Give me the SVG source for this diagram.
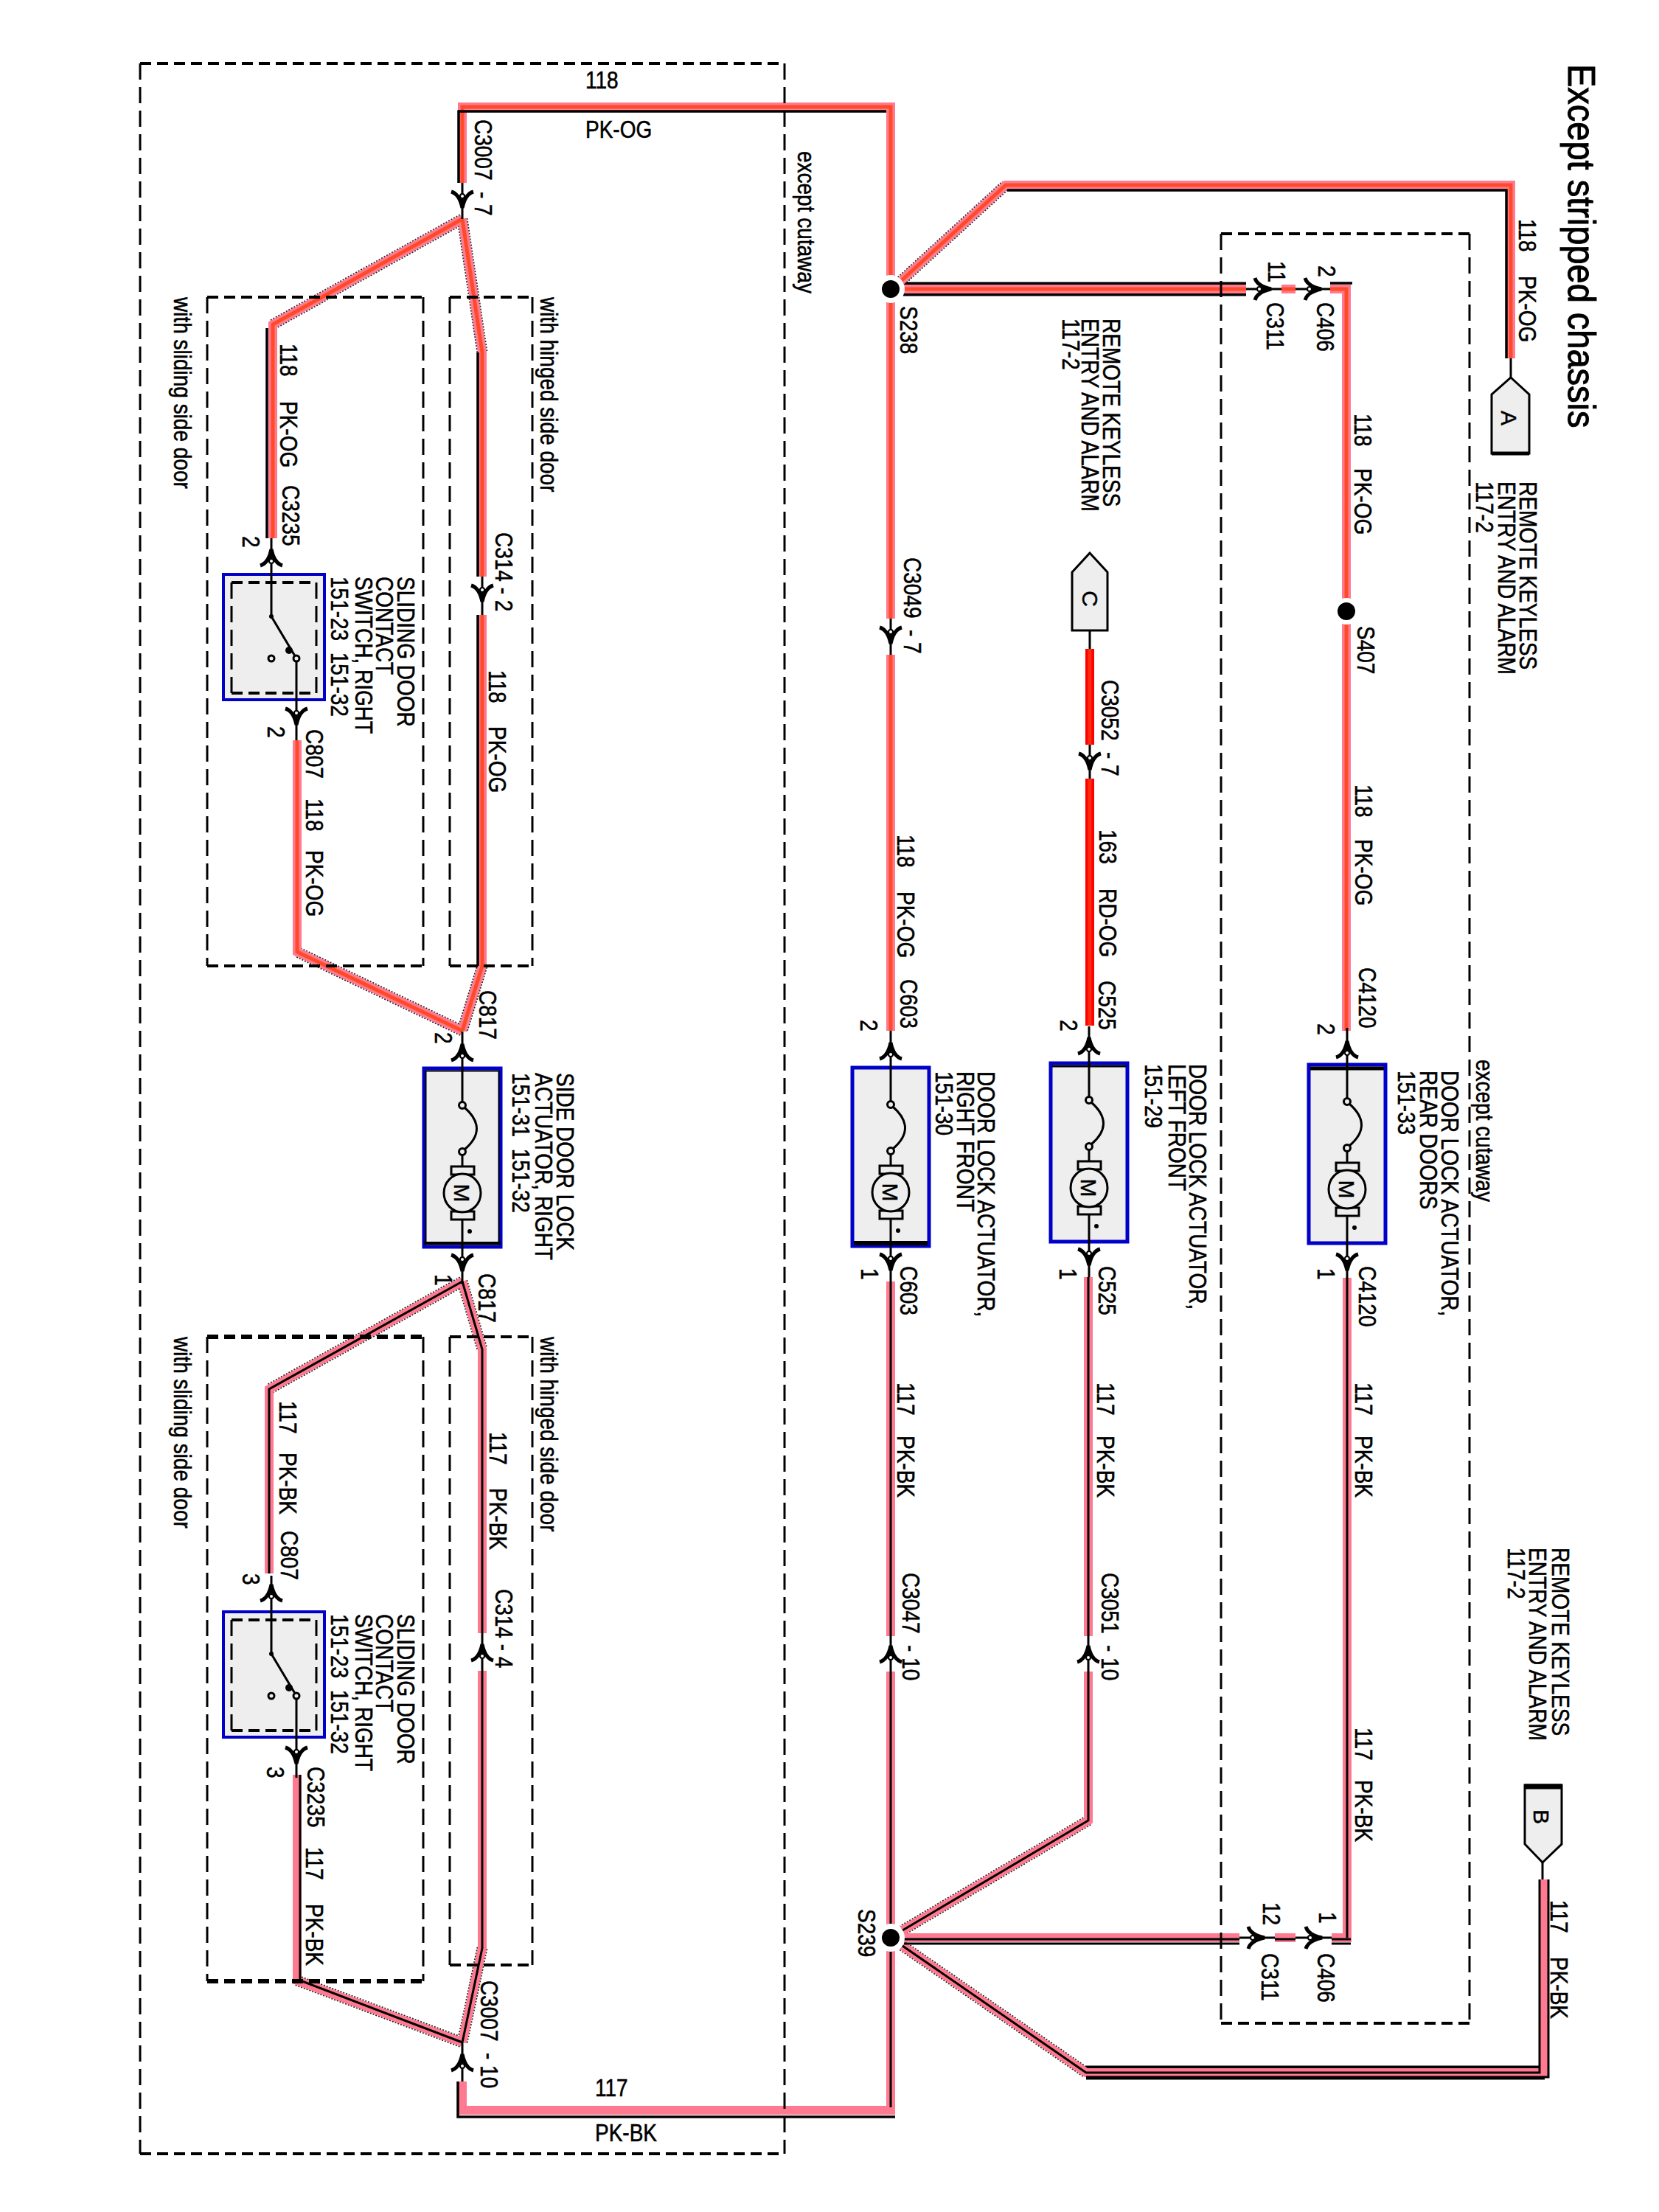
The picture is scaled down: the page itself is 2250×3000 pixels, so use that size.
<svg xmlns="http://www.w3.org/2000/svg" width="2250" height="3000" viewBox="0 0 2250 3000">
<style>
text{font-family:"Liberation Sans",Arial,sans-serif;font-size:28px;fill:#000;stroke:#000;stroke-width:.5;white-space:pre}
.title{font-size:47px;stroke-width:.9}
.m{text-anchor:middle;font-size:30px}
.pk,.og,.rd,.rg,.k,.kc,.kb,.edge,.thin{fill:none}
.pk{stroke:#ff7a90;stroke-width:12}
.og{stroke:#ff4a28;stroke-width:5}
.rd{stroke:#ff0000;stroke-width:12}
.rg{stroke:#ff2a10;stroke-width:5}
.k{stroke:#000;stroke-width:3.500}
.kc{stroke:#000;stroke-width:3}
.kb{stroke:#000;stroke-width:19}
.edge{stroke:#222;stroke-width:15;stroke-dasharray:2 2}
.thin{stroke:#000;stroke-width:3}
.dh{fill:none;stroke:#000;stroke-width:4;stroke-dasharray:15 8}
.dhb{fill:none;stroke:#000;stroke-width:6;stroke-dasharray:15 8}
.dv{fill:none;stroke:#000;stroke-width:3;stroke-dasharray:22 10}
.tag{fill:#eee;stroke:#000;stroke-width:3}
.fine{fill:none;stroke:#000;stroke-width:3}
.ring{fill:#fff}
</style>
<defs>
<g id="plug">
<path d="M-15 -11Q-4 -8 0 11Q4 -8 15 -11" fill="none" stroke="#000" stroke-width="5"/>
<circle cx="0" cy="-5" r="3" fill="#fff" stroke="#000" stroke-width="2"/>
</g>
<g id="act">
<rect x="-52" y="0" width="104" height="242" fill="#eee" stroke="#0000c8" stroke-width="5"/>
<path class="fine" d="M0 -50V46M0 118V133M0 205V290"/>
<circle cx="0" cy="50" r="4.500" fill="#eee" stroke="#000" stroke-width="3"/>
<circle cx="0" cy="113" r="4.500" fill="#eee" stroke="#000" stroke-width="3"/>
<path class="fine" d="M3 53Q36 82 3 110"/>
<rect x="-15" y="133" width="31" height="11" fill="#eee" stroke="#000" stroke-width="3"/>
<rect x="-15" y="194" width="31" height="11" fill="#eee" stroke="#000" stroke-width="3"/>
<ellipse cx="0" cy="169" rx="25" ry="26" fill="#eee" stroke="#000" stroke-width="3"/>
<circle cx="10" cy="221" r="3" fill="#000"/>
</g>
<g id="sw">
<rect x="-65" y="0" width="137" height="170" fill="#eee" stroke="#0000c8" stroke-width="4"/>
<path class="dh" d="M-54 11H61M-54 161H61"/>
<path class="dv" d="M-54 11V161M61 11V161"/>
<path class="fine" d="M0 -49V57L34 114V225"/>
<circle cx="0" cy="57" r="3" fill="#000"/>
<circle cx="24" cy="103" r="5" fill="#000"/>
<circle cx="0" cy="114" r="4" fill="#eee" stroke="#000" stroke-width="3"/>
<circle cx="34" cy="114" r="4" fill="#eee" stroke="#000" stroke-width="3"/>
</g>
<path id="og1" d="M627 248V145H1208V380M1208 404V839M1208 888V1398"/>
<path id="og2" d="M1222 381L1364 251H2049V486"/>
<path id="og3" d="M1225 392H1690M1738 392H1757M1804 392H1826V816M1826 842V1398"/>
<path id="og4" d="M627 297L370 440V730"/>
<path id="og5" d="M627 297L654 478V782M654 834V1310L627 1398"/>
<path id="og6" d="M627 1398L403 1291V1004"/>
<path id="rd1" d="M1478 880V1010M1478 1056V1391"/>
<path id="bk1" d="M1208 1738V2219M1208 2267V2616M1208 2640V2862H627V2823"/>
<path id="bk2" d="M1476 1732V2219M1476 2267V2469L1224 2618"/>
<path id="bk3" d="M1827 1733V2628H1806M1757 2628H1729M1681 2628H1226"/>
<path id="bk4" d="M1224 2639L1473 2811H2094V2549"/>
<path id="bk5" d="M627 1738L365 1884V2134"/>
<path id="bk6" d="M627 1738L654 1830V2215M654 2266V2642L627 2770"/>
<path id="bk7" d="M403 2407V2686L627 2770"/>
</defs>

<g id="connectors">
<path class="edge" d="M1222 381L1364 251M627 297L370 440M627 297L654 478M627 1398L403 1291M654 1310L627 1398M1476 2469L1224 2618M1224 2639L1473 2811M627 1738L365 1884M627 1738L654 1830M654 2642L627 2770M403 2686L627 2770"/>
<path class="kb" d="M1225 392H1690"/>
<path class="kb" d="M1473 2811H2095"/>
<use href="#og1" class="pk"/><use href="#og2" class="pk"/><use href="#og3" class="pk"/><use href="#og4" class="pk"/><use href="#og5" class="pk"/><use href="#og6" class="pk"/>
<use href="#og1" class="og"/><use href="#og2" class="og"/><use href="#og3" class="og"/><use href="#og4" class="og"/><use href="#og5" class="og"/><use href="#og6" class="og"/>
<use href="#rd1" class="rd"/><use href="#rd1" class="rg"/>
<path class="k" d="M622 248V151H1202M1366 258H2043V486M1804 384H1834M362 445V730M648 478V782M648 834V1310"/>
<use href="#bk1" class="pk"/><use href="#bk2" class="pk"/><use href="#bk3" class="pk"/><use href="#bk4" class="pk"/><use href="#bk5" class="pk"/><use href="#bk6" class="pk"/><use href="#bk7" class="pk"/>
<path class="kc" d="M1208 1738V2219M1208 2267V2616M1208 2640V2858M1476 1732V2219M1476 2267V2469L1224 2618M1827 1733V2628M1226 2630H1681M1729 2630H1757M1806 2630H1832M1226 2636H1681M1806 2636H1832M1224 2639L1473 2811H2088V2549M1473 2817H2100V2549M407 2407V2686L627 2770M627 1738L365 1884V2134M627 1738L654 1830V2215M654 2266V2642L627 2770"/>
<path class="k" d="M621 2823V2871H1214"/>
<path class="thin" d="M2049 486V512M2092 2526V2549M1478 855V880M1478 1010V1056M1208 839V888M1690 392H1738M1757 392H1804M627 248V297M654 782V834M1681 2628H1729M1757 2628H1806M1476 2219V2267M1208 2219V2267M654 2215V2266M627 2770V2823"/>
</g>

<g id="frames">
<path class="dh" d="M190 86H1064M190 2921H1064"/><path class="dv" d="M190 86V2921M1064 86V2921"/>
<path class="dh" d="M1656 317H1993M1656 2744H1993"/><path class="dv" d="M1656 317V2744M1993 317V2744"/>
<path class="dh" d="M281 403H574M281 1310H574"/><path class="dv" d="M281 403V1310M574 403V1310"/>
<path class="dh" d="M610 403H722M610 1310H722"/><path class="dv" d="M610 403V1310M722 403V1310"/>
<path class="dhb" d="M281 1813H574M281 2687H574"/><path class="dv" d="M281 1813V2687M574 1813V2687"/>
<path class="dh" d="M610 1813H722M610 2665H722"/><path class="dv" d="M610 1813V2665M722 1813V2665"/>
<text transform="translate(1082 205) rotate(90) scale(1 1.18)">except cutaway</text>
<text transform="translate(2002 1437) rotate(90) scale(1 1.18)">except cutaway</text>
<text transform="translate(236 403) rotate(90) scale(1 1.18)">with sliding side door</text>
<text transform="translate(733 403) rotate(90) scale(1 1.18)">with hinged side door</text>
<text transform="translate(236 1813) rotate(90) scale(1 1.18)">with sliding side door</text>
<text transform="translate(733 1813) rotate(90) scale(1 1.18)">with hinged side door</text>
</g>

<text class="title" transform="translate(2127 87) rotate(90) scale(1 1.12)">Except stripped chassis</text>

<g id="tag-a">
<path class="tag" d="M2049 512L2074 535V615H2023V535Z"/><path d="M2023 615H2074" stroke="#000" stroke-width="5"/>
<text class="m" transform="translate(2036 567) rotate(90)">A</text>
<text transform="translate(2061 653) rotate(90) scale(1 1.18)">REMOTE KEYLESS</text>
<text transform="translate(2032 653) rotate(90) scale(1 1.18)">ENTRY AND ALARM</text>
<text transform="translate(2002 653) rotate(90) scale(1 1.18)">117-2</text>
</g>
<g id="tag-b">
<path class="tag" d="M2068 2421H2118V2501L2092 2526L2068 2501Z"/><path d="M2068 2423H2118" stroke="#000" stroke-width="7"/>
<text class="m" transform="translate(2080 2464) rotate(90)">B</text>
<text transform="translate(2105 2099) rotate(90) scale(1 1.18)">REMOTE KEYLESS</text>
<text transform="translate(2074 2099) rotate(90) scale(1 1.18)">ENTRY AND ALARM</text>
<text transform="translate(2045 2099) rotate(90) scale(1 1.18)">117-2</text>
</g>
<g id="tag-c">
<path class="tag" d="M1478 750L1502 776V855H1454V776Z"/>
<text class="m" transform="translate(1468 812) rotate(90)">C</text>
<text transform="translate(1496 432) rotate(90) scale(1 1.18)">REMOTE KEYLESS</text>
<text transform="translate(1467 432) rotate(90) scale(1 1.18)">ENTRY AND ALARM</text>
<text transform="translate(1441 432) rotate(90) scale(1 1.18)">117-2</text>
</g>

<g id="s238"><circle class="ring" cx="1208" cy="392" r="19"/><circle cx="1208" cy="392" r="12"/><text transform="translate(1221 415) rotate(90) scale(1 1.18)">S238</text></g>
<g id="s407"><circle class="ring" cx="1826" cy="829" r="18"/><circle cx="1826" cy="829" r="12"/><text transform="translate(1841 849) rotate(90) scale(1 1.18)">S407</text></g>
<g id="s239"><circle class="ring" cx="1208" cy="2628" r="19"/><circle cx="1208" cy="2628" r="12"/><text transform="translate(1164 2589) rotate(90) scale(1 1.18)">S239</text></g>

<g id="act-side">
<use href="#act" transform="translate(627 1449)"/>
<rect x="577.500" y="1452.500" width="99" height="235" fill="none" stroke="#000" stroke-width="2"/>
<path d="M575 1686H679" stroke="#000" stroke-width="4"/>
<text class="m" transform="translate(616 1618) rotate(90)">M</text>
<text transform="translate(755 1455) rotate(90) scale(1 1.18)">SIDE DOOR LOCK</text>
<text transform="translate(726 1455) rotate(90) scale(1 1.18)">ACTUATOR, RIGHT</text>
<text transform="translate(695 1455) rotate(90) scale(1 1.18)">151-31  151-32</text>
</g>
<g id="act-rf">
<use href="#act" transform="translate(1208 1448)"/>
<path d="M1158 1686H1258" stroke="#000" stroke-width="6"/>
<text class="m" transform="translate(1197 1617) rotate(90)">M</text>
<text transform="translate(1326 1453) rotate(90) scale(1 1.18)">DOOR LOCK ACTUATOR,</text>
<text transform="translate(1298 1453) rotate(90) scale(1 1.18)">RIGHT FRONT</text>
<text transform="translate(1269 1453) rotate(90) scale(1 1.18)">151-30</text>
</g>
<g id="act-lf">
<use href="#act" transform="translate(1477 1442)"/>
<path d="M1427 1446H1527" stroke="#000" stroke-width="3"/>
<text class="m" transform="translate(1466 1611) rotate(90)">M</text>
<text transform="translate(1613 1443) rotate(90) scale(1 1.18)">DOOR LOCK ACTUATOR,</text>
<text transform="translate(1585 1443) rotate(90) scale(1 1.18)">LEFT FRONT</text>
<text transform="translate(1553 1443) rotate(90) scale(1 1.18)">151-29</text>
</g>
<g id="act-rear">
<use href="#act" transform="translate(1827 1444)"/>
<path d="M1777 1449H1877" stroke="#000" stroke-width="5"/>
<text class="m" transform="translate(1816 1613) rotate(90)">M</text>
<text transform="translate(1955 1452) rotate(90) scale(1 1.18)">DOOR LOCK ACTUATOR,</text>
<text transform="translate(1926 1452) rotate(90) scale(1 1.18)">REAR DOORS</text>
<text transform="translate(1896 1452) rotate(90) scale(1 1.18)">151-33</text>
</g>
<g id="switch-upper">
<use href="#sw" transform="translate(368 779)"/>
<text transform="translate(539 782) rotate(90) scale(1 1.18)">SLIDING DOOR</text>
<text transform="translate(510 782) rotate(90) scale(1 1.18)">CONTACT</text>
<text transform="translate(482 782) rotate(90) scale(1 1.18)">SWITCH, RIGHT</text>
<text transform="translate(449 782) rotate(90) scale(1 1.18)">151-23  151-32</text>
</g>
<g id="switch-lower">
<use href="#sw" transform="translate(368 2186)"/>
<text transform="translate(539 2189) rotate(90) scale(1 1.18)">SLIDING DOOR</text>
<text transform="translate(510 2189) rotate(90) scale(1 1.18)">CONTACT</text>
<text transform="translate(482 2189) rotate(90) scale(1 1.18)">SWITCH, RIGHT</text>
<text transform="translate(449 2189) rotate(90) scale(1 1.18)">151-23  151-32</text>
</g>

<g id="plugs">
<use href="#plug" transform="translate(627 271)"/>
<use href="#plug" transform="translate(654 805)"/>
<use href="#plug" transform="translate(368 756) rotate(180)"/>
<use href="#plug" transform="translate(402 972)"/>
<use href="#plug" transform="translate(627 1427) rotate(180)"/>
<use href="#plug" transform="translate(627 1713)"/>
<use href="#plug" transform="translate(368 2160) rotate(180)"/>
<use href="#plug" transform="translate(402 2381)"/>
<use href="#plug" transform="translate(654 2241) rotate(180)"/>
<use href="#plug" transform="translate(627 2797) rotate(180)"/>
<use href="#plug" transform="translate(1208 862)"/>
<use href="#plug" transform="translate(1208 1425) rotate(180)"/>
<use href="#plug" transform="translate(1208 1712)"/>
<use href="#plug" transform="translate(1208 2243) rotate(180)"/>
<use href="#plug" transform="translate(1478 1033)"/>
<use href="#plug" transform="translate(1477 1418) rotate(180)"/>
<use href="#plug" transform="translate(1477 1705)"/>
<use href="#plug" transform="translate(1476 2243) rotate(180)"/>
<use href="#plug" transform="translate(1827 1423) rotate(180)"/>
<use href="#plug" transform="translate(1827 1712)"/>
<use href="#plug" transform="translate(1713 392) rotate(-90)"/>
<use href="#plug" transform="translate(1781 392) rotate(-90)"/>
<use href="#plug" transform="translate(1704 2628) rotate(-90)"/>
<use href="#plug" transform="translate(1782 2628) rotate(-90)"/>
</g>

<g id="labels">
<text transform="translate(794 120) scale(1 1.18)">118</text>
<text transform="translate(794 187) scale(1 1.18)">PK-OG</text>
<text transform="translate(807 2843) scale(1 1.18)">117</text>
<text transform="translate(807 2904) scale(1 1.18)">PK-BK</text>
<text transform="translate(644 162) rotate(90) scale(1 1.18)">C3007  - 7</text>
<text transform="translate(380 466) rotate(90) scale(1 1.18)">118</text>
<text transform="translate(380 544) rotate(90) scale(1 1.18)">PK-OG</text>
<text transform="translate(383 658) rotate(90) scale(1 1.18)">C3235</text>
<text transform="translate(329 727) rotate(90) scale(1 1.18)">2</text>
<text transform="translate(672 722) rotate(90) scale(1 1.18)">C314 - 2</text>
<text transform="translate(663 909) rotate(90) scale(1 1.18)">118</text>
<text transform="translate(663 985) rotate(90) scale(1 1.18)">PK-OG</text>
<text transform="translate(415 989) rotate(90) scale(1 1.18)">C807</text>
<text transform="translate(363 985) rotate(90) scale(1 1.18)">2</text>
<text transform="translate(415 1083) rotate(90) scale(1 1.18)">118</text>
<text transform="translate(415 1153) rotate(90) scale(1 1.18)">PK-OG</text>
<text transform="translate(650 1343) rotate(90) scale(1 1.18)">C817</text>
<text transform="translate(590 1400) rotate(90) scale(1 1.18)">2</text>
<text transform="translate(649 1727) rotate(90) scale(1 1.18)">C817</text>
<text transform="translate(590 1728) rotate(90) scale(1 1.18)">1</text>
<text transform="translate(379 1900) rotate(90) scale(1 1.18)">117</text>
<text transform="translate(379 1970) rotate(90) scale(1 1.18)">PK-BK</text>
<text transform="translate(381 2076) rotate(90) scale(1 1.18)">C807</text>
<text transform="translate(329 2134) rotate(90) scale(1 1.18)">3</text>
<text transform="translate(664 1942) rotate(90) scale(1 1.18)">117</text>
<text transform="translate(664 2018) rotate(90) scale(1 1.18)">PK-BK</text>
<text transform="translate(672 2155) rotate(90) scale(1 1.18)">C314 - 4</text>
<text transform="translate(362 2396) rotate(90) scale(1 1.18)">3</text>
<text transform="translate(417 2396) rotate(90) scale(1 1.18)">C3235</text>
<text transform="translate(415 2505) rotate(90) scale(1 1.18)">117</text>
<text transform="translate(415 2582) rotate(90) scale(1 1.18)">PK-BK</text>
<text transform="translate(652 2686) rotate(90) scale(1 1.18)">C3007  - 10</text>
<text transform="translate(1226 756) rotate(90) scale(1 1.18)">C3049  - 7</text>
<text transform="translate(1217 1132) rotate(90) scale(1 1.18)">118</text>
<text transform="translate(1217 1209) rotate(90) scale(1 1.18)">PK-OG</text>
<text transform="translate(1221 1328) rotate(90) scale(1 1.18)">C603</text>
<text transform="translate(1167 1383) rotate(90) scale(1 1.18)">2</text>
<text transform="translate(1168 1720) rotate(90) scale(1 1.18)">1</text>
<text transform="translate(1221 1717) rotate(90) scale(1 1.18)">C603</text>
<text transform="translate(1217 1875) rotate(90) scale(1 1.18)">117</text>
<text transform="translate(1217 1947) rotate(90) scale(1 1.18)">PK-BK</text>
<text transform="translate(1224 2133) rotate(90) scale(1 1.18)">C3047  - 10</text>
<text transform="translate(1494 922) rotate(90) scale(1 1.18)">C3052  - 7</text>
<text transform="translate(1491 1125) rotate(90) scale(1 1.18)">163</text>
<text transform="translate(1491 1205) rotate(90) scale(1 1.18)">RD-OG</text>
<text transform="translate(1490 1330) rotate(90) scale(1 1.18)">C525</text>
<text transform="translate(1438 1383) rotate(90) scale(1 1.18)">2</text>
<text transform="translate(1437 1720) rotate(90) scale(1 1.18)">1</text>
<text transform="translate(1490 1717) rotate(90) scale(1 1.18)">C525</text>
<text transform="translate(1488 1875) rotate(90) scale(1 1.18)">117</text>
<text transform="translate(1488 1947) rotate(90) scale(1 1.18)">PK-BK</text>
<text transform="translate(1494 2133) rotate(90) scale(1 1.18)">C3051  - 10</text>
<text transform="translate(2060 297) rotate(90) scale(1 1.18)">118</text>
<text transform="translate(2060 374) rotate(90) scale(1 1.18)">PK-OG</text>
<text transform="translate(1720 354) rotate(90) scale(1 1.18)">11</text>
<text transform="translate(1718 410) rotate(90) scale(1 1.18)">C311</text>
<text transform="translate(1788 360) rotate(90) scale(1 1.18)">2</text>
<text transform="translate(1786 410) rotate(90) scale(1 1.18)">C406</text>
<text transform="translate(1837 561) rotate(90) scale(1 1.18)">118</text>
<text transform="translate(1837 635) rotate(90) scale(1 1.18)">PK-OG</text>
<text transform="translate(1838 1064) rotate(90) scale(1 1.18)">118</text>
<text transform="translate(1838 1138) rotate(90) scale(1 1.18)">PK-OG</text>
<text transform="translate(1843 1312) rotate(90) scale(1 1.18)">C4120</text>
<text transform="translate(1787 1388) rotate(90) scale(1 1.18)">2</text>
<text transform="translate(1787 1720) rotate(90) scale(1 1.18)">1</text>
<text transform="translate(1843 1717) rotate(90) scale(1 1.18)">C4120</text>
<text transform="translate(1838 1875) rotate(90) scale(1 1.18)">117</text>
<text transform="translate(1838 1947) rotate(90) scale(1 1.18)">PK-BK</text>
<text transform="translate(1838 2343) rotate(90) scale(1 1.18)">117</text>
<text transform="translate(1838 2414) rotate(90) scale(1 1.18)">PK-BK</text>
<text transform="translate(1713 2580) rotate(90) scale(1 1.18)">12</text>
<text transform="translate(1711 2649) rotate(90) scale(1 1.18)">C311</text>
<text transform="translate(1789 2593) rotate(90) scale(1 1.18)">1</text>
<text transform="translate(1787 2649) rotate(90) scale(1 1.18)">C406</text>
<text transform="translate(2103 2577) rotate(90) scale(1 1.18)">117</text>
<text transform="translate(2103 2654) rotate(90) scale(1 1.18)">PK-BK</text>
</g>
</svg>
